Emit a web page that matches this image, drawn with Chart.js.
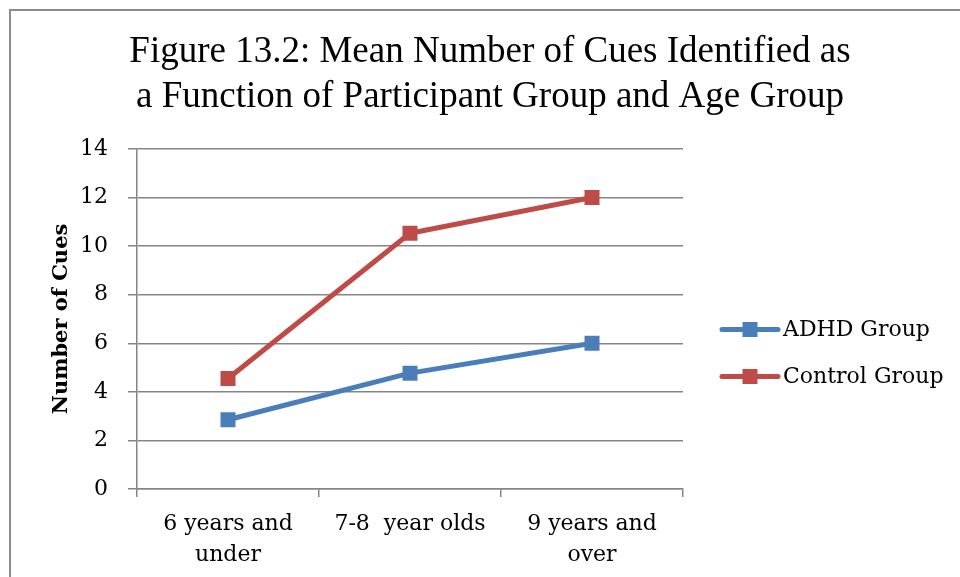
<!DOCTYPE html>
<html>
<head>
<meta charset="utf-8">
<title>Mean Number of Cues</title>
<script src="https://cdn.jsdelivr.net/npm/chart.js@4.4.1/dist/chart.umd.min.js"></script>
<style>
  html, body { margin: 0; padding: 0; background: #fff; overflow: hidden; }
  #frame {
    position: absolute; left: 9px; top: 9px; width: 1200px; height: 800px;
    border-left: 2px solid #8c8c8c; border-top: 2px solid #8c8c8c;
  }
  #wrap { position: absolute; left: 0; top: 0; width: 960px; height: 577px; }
</style>
</head>
<body>
<div id="frame"></div>
<div id="wrap"><canvas id="cuesChart" width="960" height="577"></canvas></div>
<script>
// age groups on the x axis, mean cues per group
const ageGroups = [['6 years and', 'under'], '7-8  year olds', ['9 years and', 'over']];
const adhdMeans = [2.85, 4.77, 6.0];
const controlMeans = [4.55, 10.53, 12.0];
const seriesNames = ['ADHD Group', 'Control Group'];
const yMin = 0;
const yMax = 14;
const yStep = 2;

const gridGray = '#858585';

Chart.defaults.font.family = '"DejaVu Serif", serif';
Chart.defaults.font.size = 22;
Chart.defaults.color = '#000';

// legend to the right: a short line with a square marker, like the series
const sideLegend = {
  id: 'sideLegend',
  afterDraw(chart) {
    const { ctx, chartArea } = chart;
    const x0 = chartArea.right + 39;
    const midY = (chartArea.top + chartArea.bottom) / 2 + 34;
    ctx.save();
    chart.data.datasets.forEach((ds, i) => {
      const y = midY + (i - 0.5) * 47;
      ctx.strokeStyle = ds.borderColor;
      ctx.lineWidth = 5;
      ctx.lineCap = 'round';
      ctx.beginPath();
      ctx.moveTo(x0, y);
      ctx.lineTo(x0 + 56, y);
      ctx.stroke();
      ctx.fillStyle = ds.backgroundColor;
      ctx.fillRect(x0 + 28 - 7.5, y - 7.5, 15, 15);
      ctx.fillStyle = '#000';
      ctx.font = '22px "DejaVu Serif"';
      ctx.textBaseline = 'middle';
      ctx.textAlign = 'left';
      ctx.fillText(ds.label, x0 + 61, y + 1);
    });
    ctx.restore();
  }
};

const config = {
  type: 'line',
  data: {
    labels: ageGroups,
    datasets: [
      {
        label: seriesNames[0],
        data: adhdMeans,
        borderColor: '#4a7ebb',
        backgroundColor: '#4a7ebb',
        borderWidth: 5,
        borderCapStyle: 'round',
        borderJoinStyle: 'round',
        pointStyle: 'rect',
        pointRadius: 10.6,
        pointBorderWidth: 0,
        tension: 0
      },
      {
        label: seriesNames[1],
        data: controlMeans,
        borderColor: '#be4b48',
        backgroundColor: '#be4b48',
        borderWidth: 5,
        borderCapStyle: 'round',
        borderJoinStyle: 'round',
        pointStyle: 'rect',
        pointRadius: 10.6,
        pointBorderWidth: 0,
        tension: 0
      }
    ]
  },
  options: {
    responsive: false,
    animation: false,
    layout: { padding: { left: 20, right: 0, top: 0, bottom: 0 } },
    plugins: {
      legend: { display: false },
      tooltip: { enabled: false },
      title: {
        display: true,
        text: ['Figure 13.2: Mean Number of Cues Identified as', 'a Function of Participant Group and Age Group'],
        font: { family: '"Liberation Serif", serif', size: 37, weight: 'normal', lineHeight: 1.216 },
        color: '#000',
        padding: { top: 29.5, bottom: 29.5 }
      }
    },
    scales: {
      x: {
        type: 'category',
        offset: true,
        grid: { offset: true, drawOnChartArea: false, tickLength: 8, color: gridGray, lineWidth: 1.5 },
        border: { color: gridGray, width: 1.5 },
        ticks: { padding: 12, maxRotation: 0, autoSkip: false, font: { size: 22, lineHeight: 1.4 } },
        afterFit(scale) { scale.height = 88; }
      },
      y: {
        min: yMin,
        max: yMax,
        ticks: { stepSize: yStep, padding: 20, font: { size: 22 } },
        grid: { color: gridGray, lineWidth: 1.5, tickLength: 9 },
        border: { color: gridGray, width: 1.5 },
        title: {
          display: true,
          text: 'Number of Cues',
          font: { size: 21, weight: 'bold', lineHeight: 1.2 },
          padding: { top: 29.4, bottom: 0 }
        },
        afterFit(scale) { scale.width = 117; }
      },
      // keeps the space on the right free for the legend
      legendSpace: {
        type: 'linear',
        position: 'right',
        display: true,
        ticks: { display: false },
        grid: { display: false },
        border: { display: false },
        afterFit(scale) { scale.width = 277; }
      }
    }
  },
  plugins: [sideLegend]
};

new Chart(document.getElementById('cuesChart'), config);
</script>
</body>
</html>
